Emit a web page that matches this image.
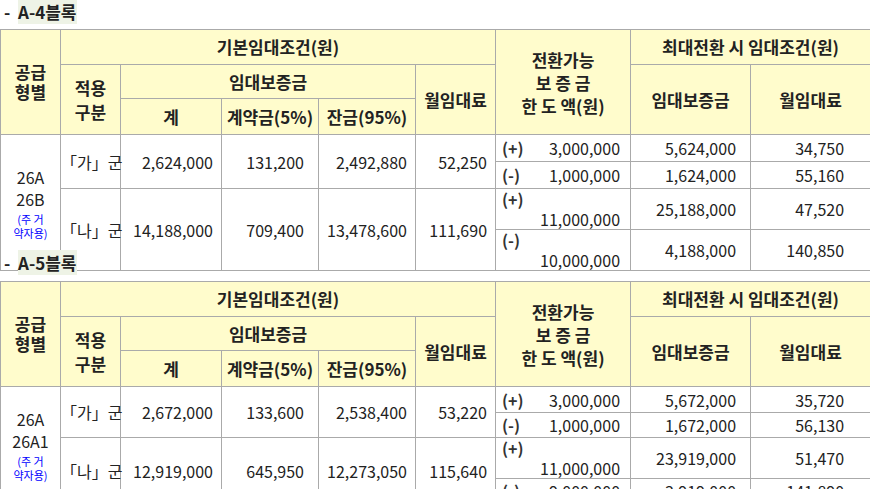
<!DOCTYPE html><html><head><meta charset="utf-8">
<script src="https://cdn.jsdelivr.net/npm/chart.js@4"></script>
<style>
body{margin:0;width:870px;height:489px;background:#fff;font-family:"Noto Sans CJK KR",sans-serif;color:#222;overflow:hidden;position:relative}
.t{position:absolute;left:4px;font-size:17px;font-weight:bold;line-height:22px}
.t span{background:#eef3e6}
table{position:absolute;left:0;border-collapse:collapse;font-size:16px;table-layout:fixed}
td{border:1px solid #aaa;padding:0 4px;white-space:nowrap;line-height:20px}
.h{background:#fffccc;font-weight:bold;text-align:center;font-size:17px}
.n{text-align:right;padding-right:8px}
.c{text-align:center}
.s{color:#00f;font-size:11px;line-height:14px;margin-top:2px}
.m{padding-left:6px}
</style></head><body>
<div id="root"></div>
<script>
const blocks=["A-4블록","A-5블록"];
const types=[["26A","26B"],["26A","26A1"]];
const groups=["「가」군","「나」군"];
const total=[[2624000,14188000],[2672000,12919000]];
const contract=[[131200,709400],[133600,645950]];
const balance=[[2492880,13478600],[2538400,12273050]];
const rent=[[52250,111690],[53220,115640]];
const convSign=["(+)","(-)","(+)","(-)"];
const conv=[[3000000,1000000,11000000,10000000],[3000000,1000000,11000000,9000000]];
const maxDep=[[5624000,1624000,25188000,4188000],[5672000,1672000,23919000,3919000]];
const maxRent=[[34750,55160,47520,140850],[35720,56130,51470,141890]];
const f=v=>v.toLocaleString('en-US');
const tops=[29,281],ttl=[1,252];
let html='';
blocks.forEach((b,k)=>{
html+=`<div class="t" style="top:${ttl[k]}px">- &nbsp;<span>${b}</span></div>`;
const H=k?[35,34,36,26,25,26,25]:[35,34,36,27,27,27,27];
html+=`<table style="top:${tops[k]}px;width:870px"><colgroup>${[60,60,101,97,97,80,135,120,120].map(w=>`<col style="width:${w}px">`).join('')}</colgroup>
<tr style="height:${H[0]}px"><td class="h" rowspan="3">공급<br>형별</td><td class="h" colspan="5">기본임대조건(원)</td><td class="h" rowspan="3" style="line-height:23px">전환가능<br>보 증 금<br>한 도 액(원)</td><td class="h" colspan="2">최대전환 시 임대조건(원)</td></tr>
<tr style="height:${H[1]}px"><td class="h" rowspan="2" style="line-height:24px">적용<br>구분</td><td class="h" colspan="3">임대보증금</td><td class="h" rowspan="2">월임대료</td><td class="h" rowspan="2">임대보증금</td><td class="h" rowspan="2">월임대료</td></tr>
<tr style="height:${H[2]}px"><td class="h">계</td><td class="h">계약금(5%)</td><td class="h">잔금(95%)</td></tr>`;
for(let r=0;r<4;r++){
 const g=r>>1;
 html+=`<tr style="height:${H[3+r]}px">`;
 if(r==0)html+=`<td class="c" rowspan="4" style="line-height:22px;padding:0">${types[k][0]}<br>${types[k][1]}<div class="s">(주 거<br>약자용)</div></td>`;
 if(r%2==0)html+=`<td class="c" rowspan="2" style="padding:0">${groups[g]}</td><td class="n" rowspan="2">${f(total[k][g])}</td><td class="n" rowspan="2" style="padding-right:14px">${f(contract[k][g])}</td><td class="n" rowspan="2">${f(balance[k][g])}</td><td class="n" rowspan="2">${f(rent[k][g])}</td>`;
 html+=`<td class="m"><b style="display:inline-block;width:40px;color:#333">${convSign[r]}</b><span style="float:right;padding-right:6px">${f(conv[k][r])}</span></td><td class="n" style="padding-right:14px">${f(maxDep[k][r])}</td><td class="n" style="padding-right:26px">${f(maxRent[k][r])}</td></tr>`;
}
html+='</table>';
});
document.getElementById('root').innerHTML=html;
</script></body></html>
